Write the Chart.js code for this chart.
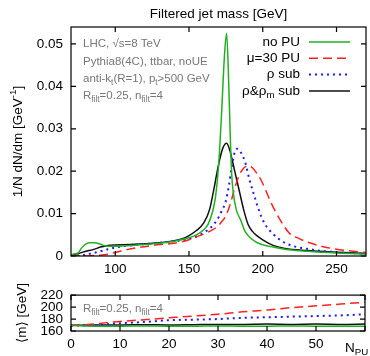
<!DOCTYPE html>
<html>
<head>
<meta charset="utf-8">
<script src="https://cdn.jsdelivr.net/npm/chart.js@4.4.1/dist/chart.umd.min.js"></script>
<style>
  html, body { margin: 0; padding: 0; background: #fff; }
  #wrap { position: relative; width: 370px; height: 356px; }
  #top { position: absolute; left: 0; top: 0; }
  #bot { position: absolute; left: 0; top: 279px; }
</style>
</head>
<body>
<div id="wrap">
  <canvas id="top" width="370" height="280"></canvas>
  <canvas id="bot" width="370" height="77"></canvas>
</div>
<script>
/* ─── Top panel: filtered jet mass distributions (x = mass [GeV], y = 1/N dN/dm) ─── */
const massNoPU = [70, 73, 75, 77, 80, 83, 86, 89, 92, 96, 100, 110, 120, 130, 140, 150, 155, 160, 163, 166,
                  168, 170, 172, 174, 175.5, 177, 178, 179, 180, 182, 185, 188, 191, 195, 198, 207, 215, 230, 250, 270];
const distNoPU = [.0003, .0005, .0008, .0018, .0028, .0031, .0031, .0029, .0025, .0023, .0023, .0025, .0027, .0030, .0035, .0043, .0050, .0062, .0075, .0105,
                  .0140, .0210, .0330, .0470, .0525, .0400, .0280, .0190, .0150, .0110, .0085, .0058, .0045, .0034, .0029, .0021, .0016, .0011, .0007, .0005];

const massPU30 = [70, 80, 85, 90, 96, 102, 108, 114, 120, 130, 140, 148, 155, 160, 165, 169, 172, 175, 178, 181,
                  184, 187, 190, 193, 196, 199, 202, 206, 212, 218, 224, 230, 241, 252, 260, 270];
const distPU30 = [0, 0, .0001, .0002, .0005, .0010, .0015, .0019, .0022, .0027, .0030, .0036, .0045, .0052, .0060, .0069, .0080, .0095, .0123, .0160,
                  .0190, .0207, .0213, .0208, .0195, .0178, .0155, .0123, .0084, .0054, .0042, .0033, .0022, .0015, .0012, .0008];

const massRho = [70, 75, 80, 85, 90, 95, 100, 105, 110, 120, 130, 140, 150, 155, 160, 165, 169, 172, 175, 177,
                 179, 181, 183, 185, 188, 191, 194, 197, 201, 207, 214, 220, 230, 240, 250, 260, 270];
const distRho = [0, .0001, .0003, .0007, .0011, .0016, .0020, .0023, .0025, .0028, .0031, .0035, .0040, .0046, .0055, .0068, .0085, .0105, .0130, .0165,
                 .0210, .0245, .0253, .0245, .0222, .0180, .0145, .0112, .0078, .0052, .0033, .0024, .0017, .0012, .0009, .0007, .0005];

const massRhoM = [70, 75, 80, 85, 90, 95, 100, 110, 120, 130, 140, 145, 150, 155, 160, 164, 167, 170, 173, 175.5,
                  178, 181, 184, 187, 190, 193, 196, 200, 207, 215, 230, 250, 270];
const distRhoM = [.0002, .0006, .0011, .0015, .0021, .0025, .0026, .0027, .0029, .0031, .0036, .0040, .0048, .0060, .0078, .0110, .0160, .0215, .0255, .0266,
                  .0245, .0200, .0155, .0110, .0075, .0058, .0048, .0038, .0025, .0018, .0013, .0009, .0006];

const massTicks = [100, 150, 200, 250];
const distTicks = [0, 0.01, 0.02, 0.03, 0.04, 0.05];

/* ─── Bottom panel: average mass vs number of pileup vertices ─── */
const nPU       = [0, 5, 10, 15, 20, 25, 30, 35, 40, 45, 50, 55, 60];
const avgNoPU   = [169, 168, 168, 168.5, 168, 168, 168.5, 168, 168, 168.5, 168, 168, 168];
const avgPU30   = [169, 172, 176, 179, 182, 185, 188, 192, 195, 199, 202, 205, 208];
const avgRho    = [169, 170, 173, 175, 178, 179, 180, 182, 183, 184, 185, 186, 188];
const avgRhoM   = [169.5, 170, 170, 170.5, 170, 170.5, 171, 171, 171.5, 171, 171.5, 171, 171.5];
const nPUTicks  = [0, 10, 20, 30, 40, 50, 60];
const avgTicks  = [160, 180, 200, 220];

const FONT = "'Liberation Sans', 'DejaVu Sans', Arial, Helvetica, sans-serif";
const C_GREEN = '#22b022';
const C_RED   = '#ff2020';
const C_BLUE  = '#1a1aff';
const C_BLACK = '#111111';

const pts = (xs, ys) => xs.map((x, i) => ({ x, y: ys[i] }));

/* ─── rich text: "_{sub}" and "^{sup}" ─── */
function parseRich(str) {
  const out = [];
  const re = /([_^])\{([^}]*)\}/g;
  let last = 0, m;
  while ((m = re.exec(str))) {
    if (m.index > last) out.push({ t: str.slice(last, m.index), mode: 0 });
    out.push({ t: m[2], mode: m[1] === '_' ? -1 : 1 });
    last = re.lastIndex;
  }
  if (last < str.length) out.push({ t: str.slice(last), mode: 0 });
  return out;
}

function drawRich(ctx, str, x, y, size, color, align) {
  const parts = parseRich(str);
  const fontFor = p => `${p.mode ? size * 0.72 : size}px ${FONT}`;
  let w = 0;
  parts.forEach(p => { ctx.font = fontFor(p); p.w = ctx.measureText(p.t).width; w += p.w; });
  let cx = align === 'right' ? x - w : align === 'center' ? x - w / 2 : x;
  ctx.fillStyle = color;
  ctx.textBaseline = 'middle';
  ctx.textAlign = 'left';
  parts.forEach(p => {
    ctx.font = fontFor(p);
    const dy = p.mode === -1 ? size * 0.32 : p.mode === 1 ? -size * 0.38 : 0;
    ctx.fillText(p.t, cx, y + dy);
    cx += p.w;
  });
}

/* ─── frame with inward ticks on all four sides ─── */
const framePlugin = {
  id: 'frame',
  afterDraw(chart) {
    const { ctx, chartArea: a, scales } = chart;
    const L = 5;
    ctx.save();
    ctx.strokeStyle = '#000';
    ctx.lineWidth = 1.2;
    ctx.beginPath();
    scales.x.ticks.forEach(t => {
      const px = scales.x.getPixelForValue(t.value);
      ctx.moveTo(px, a.bottom); ctx.lineTo(px, a.bottom - L);
      ctx.moveTo(px, a.top);    ctx.lineTo(px, a.top + L);
    });
    scales.y.ticks.forEach(t => {
      const py = scales.y.getPixelForValue(t.value);
      ctx.moveTo(a.left, py);  ctx.lineTo(a.left + L, py);
      ctx.moveTo(a.right, py); ctx.lineTo(a.right - L, py);
    });
    ctx.stroke();
    ctx.strokeRect(a.left, a.top, a.right - a.left, a.bottom - a.top);
    ctx.restore();
  }
};

/* ─── annotations, custom legend, titles ─── */
const textPlugin = {
  id: 'texts',
  afterDraw(chart, args, opts) {
    const { ctx, chartArea: a } = chart;
    ctx.save();
    if (opts.title) drawRich(ctx, opts.title, (a.left + a.right) / 2, 14, 13.5, '#000', 'center');
    (opts.notes || []).forEach((s, i) =>
      drawRich(ctx, s, a.left + 12, a.top + opts.notesTop + i * 17.3, 11.5, '#777', 'left'));
    if (opts.legend) {
      chart.data.datasets.forEach((ds, i) => {
        const y = a.top + 15 + i * 16.3;
        drawRich(ctx, ds.label, a.right - 66, y, 13.5, '#000', 'right');
        ctx.strokeStyle = ds.borderColor;
        ctx.lineWidth = ds.borderWidth;
        ctx.setLineDash(ds.borderDash || []);
        ctx.beginPath();
        ctx.moveTo(a.right - 57, y); ctx.lineTo(a.right - 16, y);
        ctx.stroke();
        ctx.setLineDash([]);
      });
    }
    if (opts.yTitle) {
      ctx.save();
      ctx.translate(opts.yTitleX, (a.top + a.bottom) / 2);
      ctx.rotate(-Math.PI / 2);
      drawRich(ctx, opts.yTitle, 0, 0, 13.5, '#000', 'center');
      ctx.restore();
    }
    if (opts.xTitle) drawRich(ctx, opts.xTitle, a.right - 20, chart.height - 8, 13.5, '#000', 'left');
    ctx.restore();
  }
};

function series(label, data, color, width, dash) {
  return {
    label, data,
    borderColor: color, backgroundColor: color,
    borderWidth: width, borderDash: dash,
    pointRadius: 0, fill: false,
    cubicInterpolationMode: 'monotone',
  };
}

function axis(min, max, tickVals, fmt, fit, pad) {
  return {
    type: 'linear', min, max,
    grid: { display: false, drawTicks: false },
    border: { display: false },
    afterBuildTicks: s => { s.ticks = tickVals.map(v => ({ value: v })); },
    afterFit: fit,
    ticks: {
      font: { family: FONT, size: 13.5 }, color: '#000',
      autoSkip: false, maxRotation: 0, padding: pad, callback: fmt,
    },
  };
}

/* ─── Top chart ─── */
new Chart(document.getElementById('top'), {
  type: 'line',
  data: {
    datasets: [
      series('no PU',         pts(massNoPU, distNoPU), C_GREEN, 1.5, []),
      series('μ=30 PU',       pts(massPU30, distPU30), C_RED,   1.5, [9, 5]),
      series('ρ sub',         pts(massRho, distRho),   C_BLUE,  2,   [2, 4]),
      series('ρ&ρ_{m} sub',   pts(massRhoM, distRhoM), C_BLACK, 1.5, []),
    ],
  },
  options: {
    responsive: false,
    animation: false,
    layout: { padding: { top: 27, right: 4, left: 0, bottom: 0 } },
    plugins: {
      legend: { display: false },
      tooltip: { enabled: false },
      texts: {
        title: 'Filtered jet mass [GeV]',
        notes: ['LHC, √s=8 TeV', 'Pythia8(4C), ttbar, noUE',
                'anti-k_{t}(R=1), p_{t}>500 GeV', 'R_{filt}=0.25, n_{filt}=4'],
        notesTop: 17.3,
        legend: true,
        yTitle: '1/N dN/dm [GeV^{-1}]',
        yTitleX: 18,
      },
    },
    scales: {
      x: axis(70, 270, massTicks, v => String(v), s => { s.height = 24; }, 5),
      y: axis(0, 0.054, distTicks, v => v === 0 ? '0' : v.toFixed(2), s => { s.width = 71; }, 8),
    },
  },
  plugins: [framePlugin, textPlugin],
});

/* ─── Bottom chart ─── */
new Chart(document.getElementById('bot'), {
  type: 'line',
  data: {
    datasets: [
      series('no PU',    pts(nPU, avgNoPU), C_GREEN, 1.5, []),
      series('μ=30 PU',  pts(nPU, avgPU30), C_RED,   1.5, [9, 5]),
      series('ρ sub',    pts(nPU, avgRho),  C_BLUE,  2,   [2, 4]),
      series('ρ&ρm sub', pts(nPU, avgRhoM), C_BLACK, 1.5, []),
    ],
  },
  options: {
    responsive: false,
    animation: false,
    layout: { padding: { top: 6, right: 4, left: 0, bottom: 0 } },
    plugins: {
      legend: { display: false },
      tooltip: { enabled: false },
      texts: {
        notes: ['R_{filt}=0.25, n_{filt}=4'],
        notesTop: 14,
        yTitle: '⟨m⟩ [GeV]',
        yTitleX: 22,
        xTitle: 'N_{PU}',
      },
    },
    scales: {
      x: axis(0, 60, nPUTicks, v => v === 60 ? '' : String(v), s => { s.height = 25; }, 5),
      y: axis(160, 220, avgTicks, v => String(v), s => { s.width = 71; }, 8),
    },
  },
  plugins: [framePlugin, textPlugin],
});
</script>
</body>
</html>
